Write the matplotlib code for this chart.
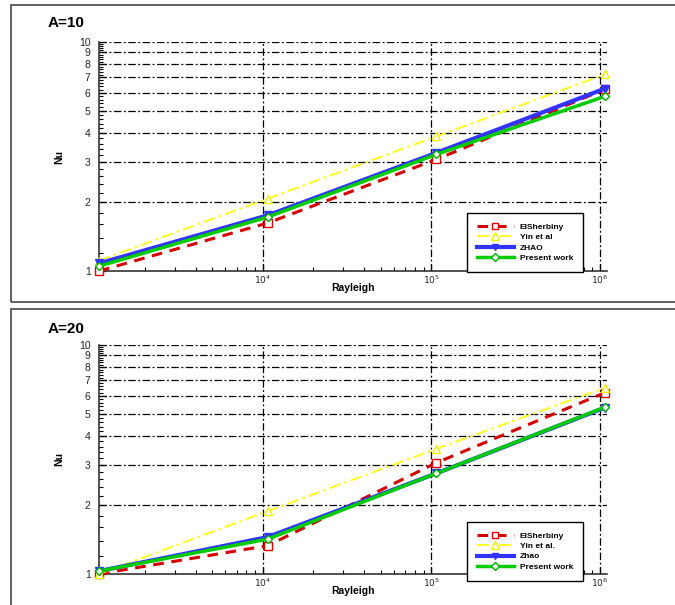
# Nusselt number vs Rayleigh number for two aspect ratios, compared with published correlations.
import numpy as np
import matplotlib.pyplot as plt
from matplotlib.patches import Rectangle
from matplotlib.lines import Line2D
from matplotlib.ticker import FixedLocator, NullFormatter

plt.rcParams['font.family'] = ['Liberation Sans', 'DejaVu Sans']

# Rayleigh numbers of the computed cases
rayleigh = [1.07e3, 1.07e4, 1.07e5, 1.07e6]

# A = 10
nu10_elsherbiny = [1.00, 1.62, 3.07, 6.22]
nu10_yin = [1.11, 2.07, 3.87, 7.23]
nu10_zhao = [1.08, 1.75, 3.28, 6.26]
nu10_present = [1.05, 1.72, 3.23, 5.79]
labels10 = ["ElSherbiny", "Yin et al", "ZHAO", "Present work"]

# A = 20
nu20_elsherbiny = [1.00, 1.33, 3.06, 6.19]
nu20_yin = [1.00, 1.88, 3.52, 6.51]
nu20_zhao = [1.03, 1.45, 2.75, 5.33]
nu20_present = [1.03, 1.42, 2.75, 5.35]
labels20 = ["ElSherbiny", "Yin et al.", "Zhao", "Present work"]

y_major = list(range(1, 11))
y_minor = [v / 10 for v in range(12, 100, 2) if v % 10 != 0]
x_major = [1e4, 1e5, 1e6]
x_minor = [m * 10 ** e for e in (3, 4, 5) for m in range(2, 10)]

styles = [
    dict(color="#d40000", ls=(0, (3.5, 2.5)), lw=2.2, marker="s", mfc="white", mec="#e00000", ms=5.5, mew=1.0),
    dict(color="#ffff22", ls=(0, (6, 2, 1.5, 2)), lw=1.4, marker="^", mfc="white", mec="#f0f000", ms=6, mew=1.0),
    dict(color="#3333ff", ls="-", lw=3.0, marker="v", mfc="#3333ff", mec="#3333ff", ms=5.5, mew=1.0),
    dict(color="#00cc00", ls="-", lw=2.5, marker="D", mfc="white", mec="#00b000", ms=4.5, mew=1.0),
]

fig = plt.figure(figsize=(6.75, 6.05), dpi=100)

# panel frames
fig.patches.append(Rectangle((11 / 675, 1 - 302 / 605), 700 / 675, 297 / 605,
                             transform=fig.transFigure, fill=False, ec="#444444", lw=1.2))
fig.patches.append(Rectangle((11 / 675, -0.05), 700 / 675, 1 - 309 / 605 + 0.05,
                             transform=fig.transFigure, fill=False, ec="#444444", lw=1.2))


def draw_panel(rect, series, labels, title, title_y, leg_y):
    ax = fig.add_axes(rect)
    ax.set_xscale("log")
    ax.set_yscale("log")
    ax.set_xlim(1.07e3, 1.1e6)
    ax.set_ylim(1, 10)

    for vals, st, lab in zip(series, styles, labels):
        ax.plot(rayleigh, vals, label=lab, clip_on=False, zorder=3, **st)

    for v in y_major[1:]:
        ax.axhline(v, color="black", lw=0.9, ls=(0, (6, 2, 1.5, 2)), zorder=1)
    for v in x_major:
        ax.axvline(v, color="black", lw=0.9, ls=(0, (6, 2, 1.5, 2)), zorder=1)

    ax.yaxis.set_major_locator(FixedLocator(y_major))
    ax.yaxis.set_minor_locator(FixedLocator(y_minor))
    ax.set_yticklabels([str(v) for v in y_major])
    ax.yaxis.set_minor_formatter(NullFormatter())
    ax.xaxis.set_major_locator(FixedLocator(x_major))
    ax.xaxis.set_minor_locator(FixedLocator(x_minor))
    ax.set_xticklabels([r"$10^{%d}$" % e for e in (4, 5, 6)])
    ax.xaxis.set_minor_formatter(NullFormatter())

    ax.tick_params(axis="both", which="major", direction="in", length=5, width=0.9,
                   labelsize=7.5, colors="black", labelcolor="#222222")
    ax.tick_params(axis="both", which="minor", direction="in", length=3, width=0.8)
    ax.tick_params(axis="x", labelsize=6.5, pad=2)
    ax.tick_params(axis="y", pad=6)

    for side in ("top", "right"):
        ax.spines[side].set_visible(False)
    for side in ("left", "bottom"):
        ax.spines[side].set_linewidth(1.2)
        ax.spines[side].set_color("#333333")

    ax.set_ylabel("Nu", fontweight="bold", fontsize=7.5, labelpad=11)
    ax.set_xlabel("Rayleigh", fontweight="bold", fontsize=7.5, labelpad=-2)

    fig.text(48 / 675, title_y, title, fontweight="bold", fontsize=11, va="center")

    handles = [Line2D([], [], **st) for st in styles]
    leg = ax.legend(handles, labels, loc="upper left", bbox_to_anchor=(467 / 675, leg_y),
                    bbox_transform=fig.transFigure, borderaxespad=0,
                    prop=dict(weight="bold", size=6),
                    handlelength=4.4, handletextpad=0.7, labelspacing=0.3,
                    borderpad=1.2, fancybox=False, framealpha=1, edgecolor="black",
                    markerscale=0.9)
    leg.get_frame().set_linewidth(1.0)
    leg.set_zorder(5)
    return ax


draw_panel([99 / 675, 1 - 271 / 605, 508 / 675, 229 / 605],
           [nu10_elsherbiny, nu10_yin, nu10_zhao, nu10_present], labels10,
           "A=10", 1 - 23 / 605, 1 - 213 / 605)
draw_panel([99 / 675, 1 - 574 / 605, 508 / 675, 229 / 605],
           [nu20_elsherbiny, nu20_yin, nu20_zhao, nu20_present], labels20,
           "A=20", 1 - 329 / 605, 1 - 522 / 605)

fig.savefig("out.png", dpi=100)
